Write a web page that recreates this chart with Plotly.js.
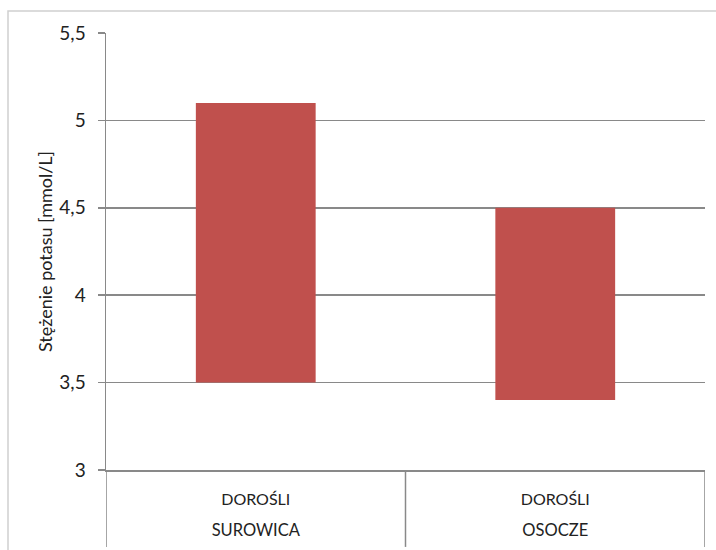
<!DOCTYPE html>
<html>
<head>
<meta charset="utf-8">
<script src="https://cdn.plot.ly/plotly-3.0.1.min.js"></script>
<style>html,body{margin:0;padding:0;background:#fff}#chart{width:716px;height:550px}</style>
</head>
<body>
<div id="chart"></div>
<script>
const groups = ["DOROŚLI", "DOROŚLI"];
const samples = ["SUROWICA", "OSOCZE"];
const lowValues = [3.5, 3.4];
const highValues = [5.1, 4.5];
const yTitle = "Stężenie potasu [mmol/L]";

const trace = {
  type: "bar",
  x: samples,
  base: lowValues,
  y: highValues.map((h, i) => h - lowValues[i]),
  marker: { color: "#c0504d", line: { width: 0 } },
  hoverinfo: "skip"
};

const idx = samples.map((_, i) => i);
const bounds = [-0.5].concat(idx.map(i => i + 0.5));
const gray = "#898989";

const layout = {
  width: 716, height: 550,
  margin: { l: 106, r: 11, t: 33, b: 80 },
  paper_bgcolor: "#fff", plot_bgcolor: "#fff",
  separators: ",.",
  bargap: 0.6,
  showlegend: false,
  font: { family: "Lato, 'Open Sans', sans-serif", color: "#222" },
  xaxis: {
    type: "category",
    range: [-0.5, samples.length - 0.5],
    tickvals: samples, ticktext: groups,
    showline: true, linecolor: gray, linewidth: 1.5,
    ticks: "", ticklabelstandoff: 14,
    tickfont: { size: 16, color: "#222" },
    showgrid: false, zeroline: false, fixedrange: true
  },
  xaxis2: {
    type: "linear", overlaying: "x", anchor: "y", side: "bottom",
    range: [-0.5, samples.length - 0.5],
    tickvals: idx, ticktext: samples,
    showline: false, ticks: "", ticklabelstandoff: 48,
    tickfont: { size: 16.5, color: "#222" },
    showgrid: false, zeroline: false, fixedrange: true
  },
  yaxis: {
    range: [3, 5.5], dtick: 0.5, tick0: 3,
    showline: true, linecolor: gray, linewidth: 1.5,
    ticks: "outside", ticklen: 7, tickcolor: gray, tickwidth: 1.5,
    ticklabelstandoff: 8,
    showgrid: true, gridcolor: gray, gridwidth: 1.5,
    zeroline: false,
    tickfont: { size: 19, color: "#222" },
    title: { text: yTitle, font: { size: 18, color: "#222" }, standoff: 2 },
    fixedrange: true
  },
  shapes: bounds.map(b => ({
    type: "line", xref: "x", yref: "paper",
    x0: b, x1: b, y0: 0, y1: -0.176,
    line: { color: gray, width: 1.5 }
  })).concat([{
    type: "rect", xref: "paper", yref: "paper",
    x0: -0.1636, x1: 1.03, y0: -0.2, y1: 1.0503,
    line: { color: "#d0d0d0", width: 1.5 }, layer: "below"
  }])
};

Plotly.newPlot("chart", [trace, { type: "scatter", x: [], y: [], xaxis: "x2", yaxis: "y", hoverinfo: "skip" }], layout, { displayModeBar: false, staticPlot: true });
</script>
</body>
</html>
